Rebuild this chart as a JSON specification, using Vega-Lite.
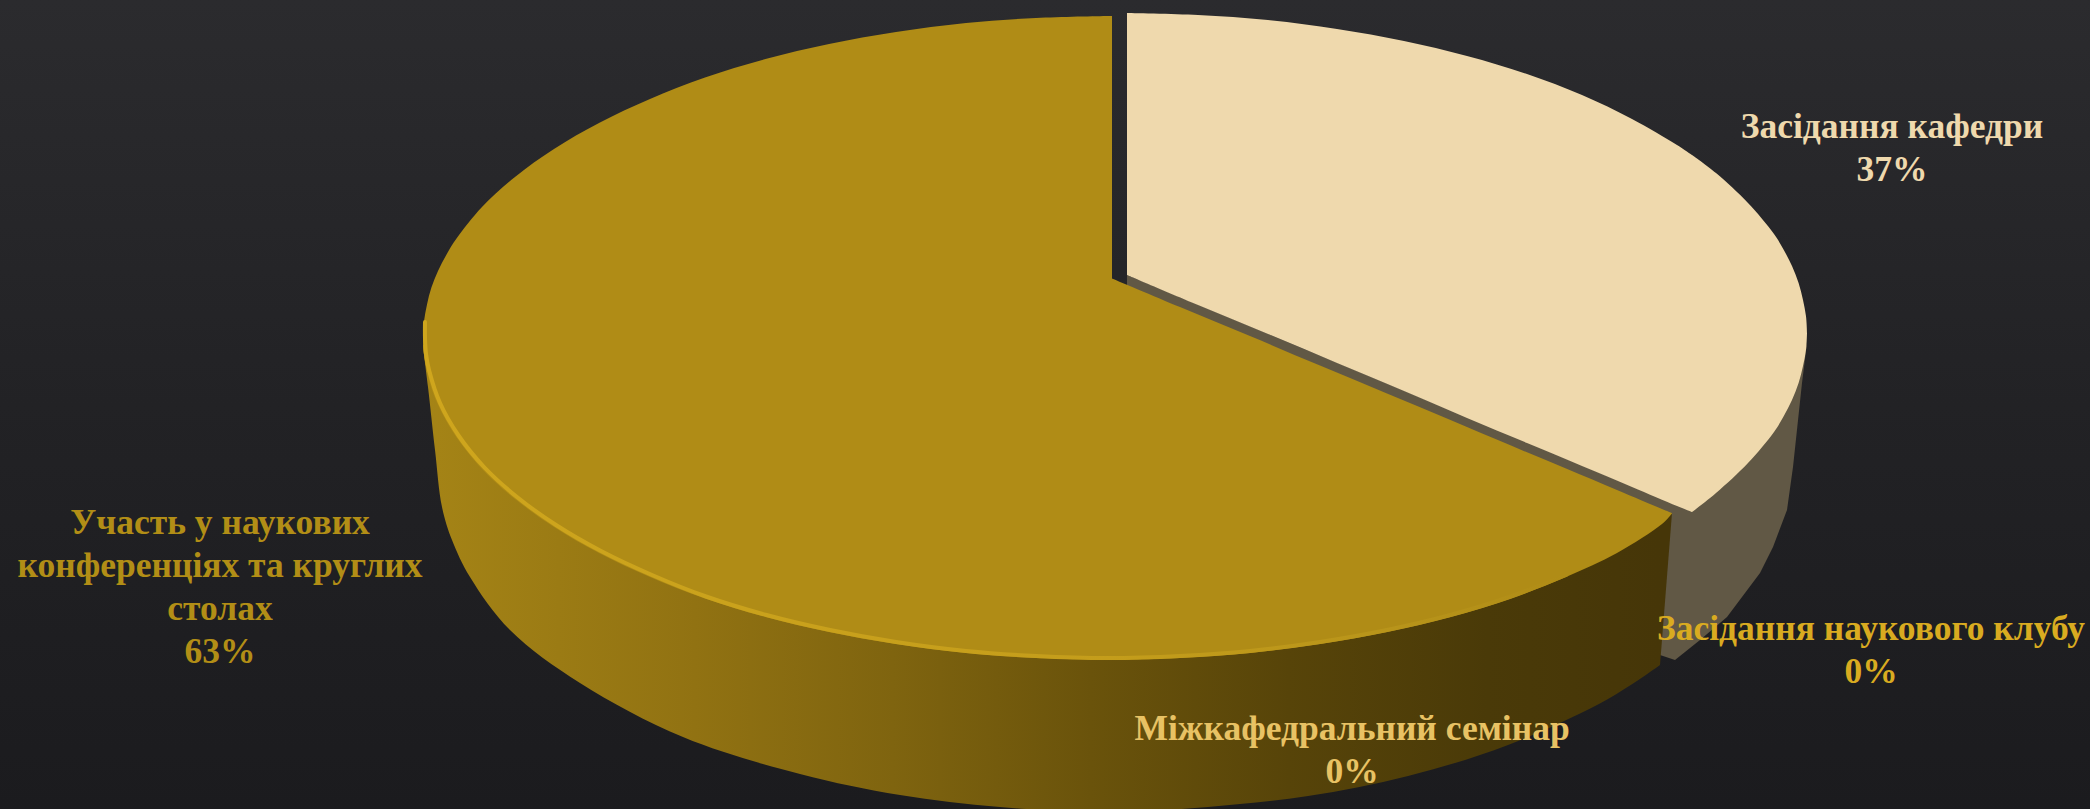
{
"$schema":"https://vega.github.io/schema/vega-lite/v6.json",
"width":2090,"height":809,"padding":0,
"autosize":{"type":"fit","contains":"padding"},
"background":"#202022",
"view":{"stroke":null,"fill":{"gradient":"linear","x1":0,"y1":0,"x2":0,"y2":1,"stops":[{"offset":0,"color":"#2b2b2e"},{"offset":0.5,"color":"#222225"},{"offset":1,"color":"#1b1b1e"}]}},
"datasets":{
"creamWall":[
{"x":1127,"top":275,"bottom":600},{"x":1400,"top":389,"bottom":650},{"x":1660,"top":498,"bottom":655},{"x":1675,"top":500,"bottom":660},{"x":1700,"top":485,"bottom":640},{"x":1727,"top":475,"bottom":617},{"x":1760,"top":440,"bottom":573},{"x":1773,"top":425,"bottom":547},{"x":1787,"top":400,"bottom":510},{"x":1793,"top":385,"bottom":467},{"x":1802,"top":360,"bottom":383},{"x":1807,"top":343,"bottom":343}],
"goldWall":[
{"x":423,"top":345,"bottom":347},{"x":428,"top":345,"bottom":387},{"x":435,"top":345,"bottom":450},{"x":442,"top":345,"bottom":507},{"x":452,"top":345,"bottom":540},{"x":470,"top":345,"bottom":577},{"x":510,"top":345,"bottom":630},{"x":580,"top":345,"bottom":683},{"x":683,"top":345,"bottom":737},{"x":800,"top":345,"bottom":774},{"x":900,"top":345,"bottom":795},{"x":1000,"top":345,"bottom":807},{"x":1108,"top":345,"bottom":812},{"x":1208,"top":400,"bottom":807},{"x":1308,"top":450,"bottom":796},{"x":1408,"top":500,"bottom":776},{"x":1508,"top":510,"bottom":745},{"x":1608,"top":520,"bottom":699},{"x":1660,"top":515,"bottom":665}],
"goldWallEnd":[
{"x":1660,"top":515,"bottom":665},{"x":1672,"top":513,"bottom":513}],
"goldFace":[
{"piece":"left","x":423,"top":338,"bottom":338},{"piece":"left","x":424,"top":321.2,"bottom":354.8},{"piece":"left","x":427,"top":304.4,"bottom":371.6},{"piece":"left","x":431.4,"top":287.6,"bottom":388.4},{"piece":"left","x":438,"top":271,"bottom":405},{"piece":"left","x":446.4,"top":254.7,"bottom":421.3},{"piece":"left","x":456.5,"top":238.5,"bottom":437.5},{"piece":"left","x":482,"top":207,"bottom":469},{"piece":"left","x":515,"top":177,"bottom":499},{"piece":"left","x":554,"top":149,"bottom":527},{"piece":"left","x":599,"top":123,"bottom":553},{"piece":"left","x":650,"top":99,"bottom":577},{"piece":"left","x":705,"top":77.5,"bottom":598.5},{"piece":"left","x":765.5,"top":59,"bottom":617},{"piece":"left","x":829,"top":44,"bottom":632},{"piece":"left","x":896,"top":32,"bottom":644},{"piece":"left","x":966,"top":23,"bottom":653},{"piece":"left","x":1036,"top":18,"bottom":658},{"piece":"left","x":1108,"top":16,"bottom":660},{"piece":"left","x":1112,"top":16,"bottom":660},
{"piece":"right","x":1112,"top":278.4,"bottom":660},{"piece":"right","x":1180,"top":307,"bottom":658},{"piece":"right","x":1250,"top":336,"bottom":653},{"piece":"right","x":1320,"top":365.6,"bottom":644},{"piece":"right","x":1387,"top":393.6,"bottom":632},{"piece":"right","x":1450.5,"top":420,"bottom":617},{"piece":"right","x":1511,"top":445.6,"bottom":598.5},{"piece":"right","x":1566,"top":468.6,"bottom":577},{"piece":"right","x":1617,"top":490,"bottom":553},{"piece":"right","x":1662,"top":509,"bottom":524},{"piece":"right","x":1672,"top":513,"bottom":513.5}],
"rim":[
{"x":425,"y":322},{"x":425,"y":338},{"x":426,"y":354},{"x":429,"y":370},{"x":440,"y":403},{"x":458.5,"y":435.5},{"x":484,"y":467},{"x":517,"y":497},{"x":556,"y":525},{"x":601,"y":551},{"x":652,"y":575},{"x":706,"y":596.5},{"x":766.5,"y":615},{"x":830,"y":630},{"x":896,"y":642},{"x":966,"y":651},{"x":1036,"y":656},{"x":1108,"y":658},{"x":1180,"y":656},{"x":1250,"y":651},{"x":1320,"y":642},{"x":1387,"y":630},{"x":1450.5,"y":615},{"x":1511,"y":596.5},{"x":1566,"y":575}],
"creamFace":[
{"piece":"a","x":1127,"top":13,"bottom":275},{"piece":"a","x":1198,"top":15,"bottom":305},{"piece":"a","x":1268,"top":20,"bottom":334},{"piece":"a","x":1337,"top":29,"bottom":363},{"piece":"a","x":1404,"top":41,"bottom":391},{"piece":"a","x":1467,"top":56,"bottom":418},{"piece":"a","x":1527,"top":74,"bottom":443},{"piece":"a","x":1582,"top":95,"bottom":466},{"piece":"a","x":1632,"top":119,"bottom":487},{"piece":"a","x":1677,"top":145,"bottom":506},{"piece":"a","x":1692,"top":155,"bottom":512},
{"piece":"b","x":1692,"top":155,"bottom":512},{"piece":"b","x":1716,"top":173,"bottom":493},{"piece":"b","x":1748,"top":203,"bottom":463},{"piece":"b","x":1774,"top":234,"bottom":432},{"piece":"b","x":1783.8,"top":250,"bottom":416},{"piece":"b","x":1792,"top":266,"bottom":400},{"piece":"b","x":1798.6,"top":283,"bottom":383},{"piece":"b","x":1803,"top":300,"bottom":366},{"piece":"b","x":1806,"top":316.3,"bottom":349.7},{"piece":"b","x":1807,"top":333,"bottom":333}],
"labels":[
{"slice":"Засідання кафедри","share":37,"label":"Засідання кафедри\n37%","x":1892,"y":127},
{"slice":"Участь у наукових конференціях та круглих столах","share":63,"label":"Участь у наукових\nконференціях та круглих\nстолах\n63%","x":220,"y":523},
{"slice":"Засідання наукового клубу","share":0,"label":"Засідання наукового клубу\n0%","x":1871,"y":629},
{"slice":"Міжкафедральний семінар","share":0,"label":"Міжкафедральний семінар\n0%","x":1352,"y":729}]
},
"layer":[
{"data":{"name":"creamWall"},"mark":{"type":"area","color":"#615845","clip":true},
"encoding":{"x":{"field":"x","type":"quantitative","scale":{"domain":[0,2090],"nice":false,"zero":false},"axis":null},"y":{"field":"top","type":"quantitative","scale":{"domain":[809,0],"nice":false,"zero":false},"axis":null},"y2":{"field":"bottom"}}},
{"data":{"name":"goldWall"},"mark":{"type":"area","interpolate":"catmull-rom","clip":true,"color":{"gradient":"linear","x1":0,"y1":0,"x2":1,"y2":0,"stops":[{"offset":0,"color":"#a58416"},{"offset":0.22,"color":"#917212"},{"offset":0.38,"color":"#7f640f"},{"offset":0.54,"color":"#6a530b"},{"offset":0.7,"color":"#574409"},{"offset":0.86,"color":"#4a3a08"},{"offset":1,"color":"#463608"}]}},
"encoding":{"x":{"field":"x","type":"quantitative","axis":null},"y":{"field":"top","type":"quantitative","axis":null},"y2":{"field":"bottom"}}},
{"data":{"name":"goldWallEnd"},"mark":{"type":"area","color":"#463608"},
"encoding":{"x":{"field":"x","type":"quantitative","axis":null},"y":{"field":"top","type":"quantitative","axis":null},"y2":{"field":"bottom"}}},
{"data":{"name":"goldFace"},"mark":{"type":"area","interpolate":"catmull-rom","color":"#b08c16"},
"encoding":{"x":{"field":"x","type":"quantitative","axis":null},"y":{"field":"top","type":"quantitative","axis":null},"y2":{"field":"bottom"},"detail":{"field":"piece"}}},
{"data":{"name":"rim"},"mark":{"type":"line","interpolate":"catmull-rom","strokeWidth":4,"strokeCap":"round","stroke":{"gradient":"linear","x1":0,"y1":0,"x2":1,"y2":0,"stops":[{"offset":0,"color":"#cfa61d"},{"offset":0.6,"color":"#c49d1b"},{"offset":0.85,"color":"#b8941a"},{"offset":1,"color":"#b08c16"}]}},
"encoding":{"x":{"field":"x","type":"quantitative","axis":null},"y":{"field":"y","type":"quantitative","axis":null},"order":null}},
{"data":{"name":"creamFace"},"mark":{"type":"area","interpolate":"catmull-rom","color":"#efd9ad"},
"encoding":{"x":{"field":"x","type":"quantitative","axis":null},"y":{"field":"top","type":"quantitative","axis":null},"y2":{"field":"bottom"},"detail":{"field":"piece"}}},
{"data":{"name":"labels"},"mark":{"type":"text","font":"Liberation Serif","fontWeight":"bold","fontSize":35.5,"lineHeight":43,"lineBreak":"\n","align":"center","baseline":"middle"},
"encoding":{"x":{"field":"x","type":"quantitative","axis":null},"y":{"field":"y","type":"quantitative","axis":null},"text":{"field":"label"},
"color":{"field":"slice","type":"nominal","legend":null,"scale":{"domain":["Засідання кафедри","Участь у наукових конференціях та круглих столах","Засідання наукового клубу","Міжкафедральний семінар"],"range":["#efd9ad","#b28e16","#d9ab20","#e8c264"]}}}}
]
}
